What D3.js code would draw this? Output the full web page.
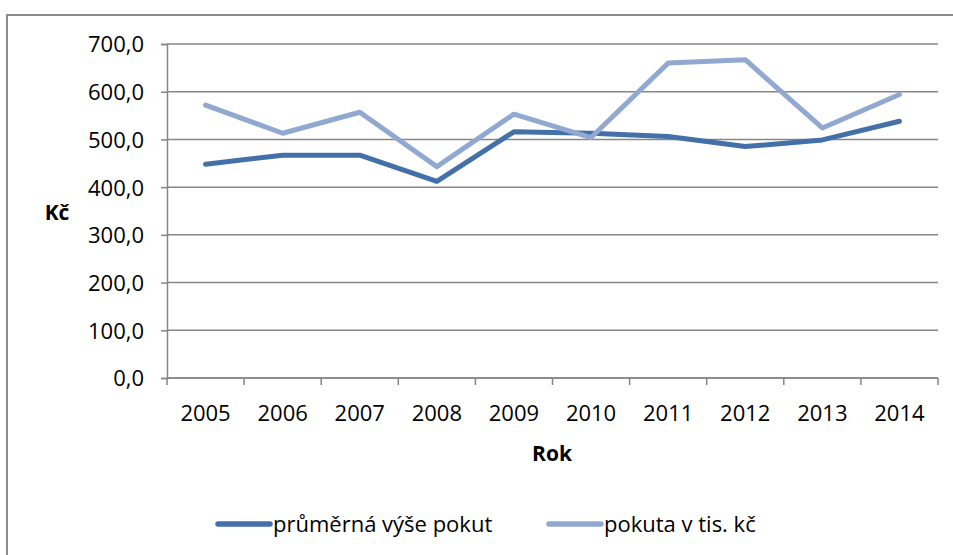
<!DOCTYPE html>
<html>
<head>
<meta charset="utf-8">
<script src="https://cdn.jsdelivr.net/npm/d3@7"></script>
<style>
  body { margin: 0; background: #fff; }
  svg text { font-family: 'Open Sans', sans-serif; fill: #000; }
</style>
</head>
<body>
<svg id="container"></svg>
<script>
const years = ['2005', '2006', '2007', '2008', '2009', '2010', '2011', '2012', '2013', '2014']
const prumerna = [448, 467, 467, 412, 516, 513, 506, 485, 499, 538]
const pokuta = [572, 513, 557, 443, 553, 504, 660, 667, 524, 594]
const yTicks = [0, 100, 200, 300, 400, 500, 600, 700]
const seriesNames = ['průměrná výše pokut', 'pokuta v tis. kč']
const colors = ['#4470a9', '#91a9d0']

const width = 953
const height = 555
const margin = { top: 44, right: 15, bottom: 177, left: 167 }
const w = width - margin.left - margin.right
const h = height - margin.top - margin.bottom

const root = d3.select('#container').attr('width', width).attr('height', height)

// outer frame
root.append('rect')
  .attr('x', 7).attr('y', 15)
  .attr('width', width).attr('height', height)
  .attr('fill', 'none')
  .attr('stroke', '#8c8c8c')
  .attr('stroke-width', 2)

const svg = root.append('g')
  .attr('transform', 'translate(' + margin.left + ',' + margin.top + ')')

const x = d3.scaleBand().domain(years).range([0, w])
const y = d3.scaleLinear().domain([0, 700]).range([h, 0])

// gridlines
svg.append('g')
  .selectAll('line')
  .data(yTicks)
  .join('line')
  .attr('x1', 0).attr('x2', w)
  .attr('y1', d => y(d)).attr('y2', d => y(d))
  .attr('stroke', '#868686')
  .attr('stroke-width', 1.5)

// y axis
const gY = svg.append('g')
  .call(d3.axisLeft(y).tickValues(yTicks).tickSize(6).tickPadding(17)
    .tickFormat(d => d3.format('.1f')(d).replace('.', ',')))
gY.select('.domain').attr('stroke', '#868686').attr('stroke-width', 1.5)
gY.selectAll('.tick line').attr('stroke', '#868686').attr('stroke-width', 1.5)
gY.selectAll('.tick text').style('font-size', '22px').attr('dy', '0.36em')
  .attr('fill', '#000')

// x axis: ticks on band boundaries
const gX = svg.append('g').attr('transform', 'translate(0,' + h + ')')
gX.append('line')
  .attr('x1', 0).attr('x2', w)
  .attr('stroke', '#868686').attr('stroke-width', 1.5)
gX.selectAll('line.tk')
  .data(d3.range(years.length + 1))
  .join('line')
  .attr('class', 'tk')
  .attr('x1', i => i * x.step()).attr('x2', i => i * x.step())
  .attr('y1', 0).attr('y2', 7)
  .attr('stroke', '#868686').attr('stroke-width', 1.5)
gX.selectAll('text')
  .data(years)
  .join('text')
  .attr('x', d => x(d) + x.bandwidth() / 2)
  .attr('y', 43)
  .attr('text-anchor', 'middle')
  .style('font-size', '22px')
  .text(d => d)

// axis titles
root.append('text')
  .attr('x', 552).attr('y', 461)
  .attr('text-anchor', 'middle')
  .style('font-size', '21px').style('font-weight', 'bold')
  .text('Rok')
root.append('text')
  .attr('x', 57).attr('y', 220)
  .attr('text-anchor', 'middle')
  .style('font-size', '21px').style('font-weight', 'bold')
  .text('Kč')

// lines
const line = d3.line()
  .x((d, i) => x(years[i]) + x.bandwidth() / 2)
  .y(d => y(d))

;[prumerna, pokuta].forEach((s, k) => {
  svg.append('path')
    .datum(s)
    .attr('d', line)
    .attr('fill', 'none')
    .attr('stroke', colors[k])
    .attr('stroke-width', 5)
    .attr('stroke-linejoin', 'round')
    .attr('stroke-linecap', 'round')
})

// legend
const legendX = [218, 549]
const legend = root.append('g')
seriesNames.forEach((name, k) => {
  legend.append('line')
    .attr('x1', legendX[k]).attr('x2', legendX[k] + 52)
    .attr('y1', 524).attr('y2', 524)
    .attr('stroke', colors[k])
    .attr('stroke-width', 5.5)
    .attr('stroke-linecap', 'round')
  legend.append('text')
    .attr('x', legendX[k] + 55).attr('y', 532)
    .style('font-size', '22px')
    .text(name)
})
</script>
</body>
</html>
